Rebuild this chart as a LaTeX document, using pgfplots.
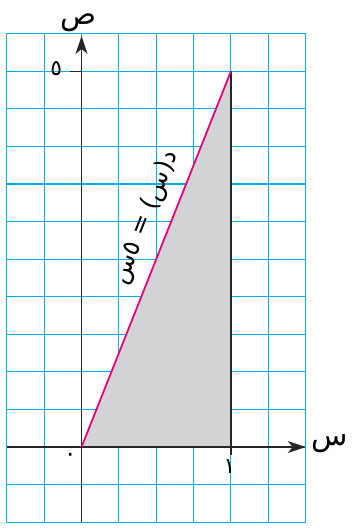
\documentclass[border=0pt]{standalone}
\usepackage{pgfplots}
\pgfplotsset{compat=1.18}
\usepackage{fontspec}
\usetikzlibrary{arrows.meta}
\newfontfamily\arabicfont[Script=Arabic]{DejaVu Sans}
\TeXXeTstate=1
\definecolor{gridcyan}{RGB}{0,174,239}
\definecolor{fmag}{RGB}{230,0,126}
\definecolor{fgray}{RGB}{209,211,212}
\begin{document}
\begin{tikzpicture}
\begin{axis}[
  scale only axis,
  width=301pt, height=492pt,
  xmin=-0.5, xmax=1.5, ymin=-1, ymax=5.5,
  xtick={-0.5,-0.25,0,0.25,0.5,0.75,1,1.25,1.5},
  ytick={-1,-0.5,0,0.5,1,1.5,2,2.5,3,3.5,4,4.5,5,5.5},
  xticklabels={}, yticklabels={},
  major tick length=0pt,
  grid=major,
  grid style={gridcyan, line width=1.1pt},
  axis line style={gridcyan, line width=1.1pt},
  clip=false,
]
\addplot[fill=fgray, draw=none] coordinates {(0,0) (1,0) (1,5) (0,0)};
\draw[black!85, line width=1.8pt, -{Stealth[length=18pt,width=12pt,inset=5pt]}] (axis cs:-0.5,0) -- (axis cs:1.5,0);
\draw[black!85, line width=1.8pt, -{Stealth[length=18pt,width=12pt,inset=5pt]}] (axis cs:0,-1) -- (axis cs:0,5.47);
\addplot[black!85, line width=2.8pt] coordinates {(0,0) (1,0) (1,5)};
\addplot[fmag, line width=1.8pt] coordinates {(0,0) (1,5)};
\draw[black!85, line width=1.3pt] (axis cs:-0.075,5) -- (axis cs:0,5);
\draw[black!85, line width=1.8pt] (axis cs:1,0) -- (axis cs:1,-0.1);
\node[font=\fontsize{22}{24}\selectfont\arabicfont] at (axis cs:-0.17,5.04) {٥};
\node[font=\fontsize{24}{26}\selectfont\arabicfont] at (axis cs:-0.075,-0.14) {٠};
\node[font=\fontsize{22}{24}\selectfont\arabicfont] at (axis cs:0.99,-0.26) {١};
\node[font=\fontsize{30}{32}\selectfont\arabicfont] at (axis cs:-0.02,5.64) {\beginR ص\endR};
\node[font=\fontsize{30}{32}\selectfont\arabicfont] at (axis cs:1.66,0.04) {\beginR س\endR};
\node[font=\fontsize{25}{27}\selectfont\arabicfont, rotate=68.4] at (axis cs:0.43,3.05) {\beginR د(س) = ٥س\endR};
\path (rel axis cs:-0.0199,-0.0061) rectangle (rel axis cs:1.1229,1.0691);
\end{axis}
\end{tikzpicture}
\end{document}
